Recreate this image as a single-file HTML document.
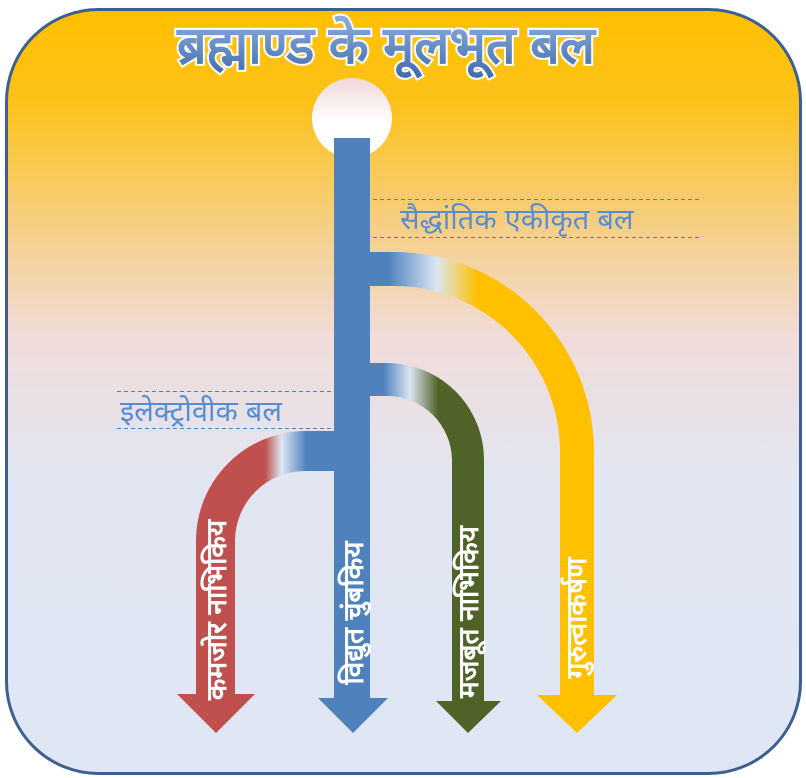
<!DOCTYPE html>
<html><head><meta charset="utf-8"><style>html,body{margin:0;padding:0;background:#fff}svg{display:block}text{font-family:"Liberation Sans","Noto Sans CJK SC",sans-serif}</style></head><body>
<svg width="806" height="778" viewBox="0 0 806 778" xmlns="http://www.w3.org/2000/svg">
<defs>
<linearGradient id="bg" x1="0" y1="0" x2="0" y2="1">
<stop offset="0" stop-color="#ffc000"/><stop offset="0.12" stop-color="#fdc21a"/><stop offset="0.3" stop-color="#f5d090"/><stop offset="0.43" stop-color="#f0dcda"/><stop offset="0.62" stop-color="#e2e6f2"/><stop offset="1" stop-color="#dfe7f4"/></linearGradient>
<linearGradient id="circ" x1="0" y1="0" x2="0" y2="1"><stop offset="0" stop-color="#efd8d8"/><stop offset="0.55" stop-color="#fff"/><stop offset="1" stop-color="#fff"/></linearGradient>
<linearGradient id="gr" gradientUnits="userSpaceOnUse" x1="334" y1="0" x2="196" y2="0"><stop offset="0" stop-color="#4f81bd"/><stop offset="0.2" stop-color="#4f81bd"/><stop offset="0.38" stop-color="#dce6f2"/><stop offset="0.5" stop-color="#c0504d"/><stop offset="1" stop-color="#c0504d"/></linearGradient>
<linearGradient id="gg" gradientUnits="userSpaceOnUse" x1="370" y1="0" x2="484" y2="0"><stop offset="0" stop-color="#4f81bd"/><stop offset="0.12" stop-color="#4f81bd"/><stop offset="0.35" stop-color="#dce6f2"/><stop offset="0.6" stop-color="#4f6228"/><stop offset="1" stop-color="#4f6228"/></linearGradient>
<linearGradient id="gy" gradientUnits="userSpaceOnUse" x1="370" y1="0" x2="594" y2="0"><stop offset="0" stop-color="#4f81bd"/><stop offset="0.08" stop-color="#4f81bd"/><stop offset="0.3" stop-color="#dce6f2"/><stop offset="0.48" stop-color="#ffc000"/><stop offset="1" stop-color="#ffc000"/></linearGradient>
<linearGradient id="tg" x1="0" y1="0" x2="0" y2="1"><stop offset="0" stop-color="#8fb0e0"/><stop offset="1" stop-color="#3f6aa8"/></linearGradient>
</defs>
<rect x="6.5" y="9.5" width="794" height="764" rx="92" fill="url(#bg)" stroke="#3c5f91" stroke-width="3"/>
<text x="386" y="63" text-anchor="middle" font-size="52" font-weight="bold" fill="url(#tg)" stroke="#fff" stroke-width="4" paint-order="stroke">ब्रह्माण्ड के मूलभूत बल</text>
<circle cx="352" cy="118" r="40" fill="url(#circ)"/>
<path d="M370 252 L394 252 A200 200 0 0 1 594 452 L594 695 L617 695 L577 733 L537 695 L560 695 L560 452 A166 166 0 0 0 394 286 L370 286 Z" fill="url(#gy)"/>
<path d="M370 363 L387 363 A97 97 0 0 1 484 460 L484 701 L501 701 L468 733 L436 701 L452 701 L452 460 A65 65 0 0 0 387 396 L370 396 Z" fill="url(#gg)"/>
<path d="M334 431 L306 431 A110 110 0 0 0 196 541 L196 694 L177 694 L216 733 L255 694 L235 694 L235 541 A70 70 0 0 1 305 471 L334 471 Z" fill="url(#gr)"/>
<path d="M334 138 L370 138 L370 698 L388 698 L353 733 L318 698 L334 698 Z" fill="#4f81bd"/>
<g stroke="#4f81bd" stroke-width="1" stroke-dasharray="4,3" fill="none">
<line x1="373" y1="199.5" x2="700" y2="199.5"/><line x1="373" y1="237.5" x2="700" y2="237.5"/>
<line x1="117" y1="391.5" x2="333" y2="391.5"/><line x1="117" y1="428.5" x2="333" y2="428.5"/></g>
<text x="400" y="229" font-size="29" fill="#558ed5">सैद्धांतिक एकीकृत बल</text>
<text x="120" y="421" font-size="29" fill="#558ed5">इलेक्ट्रोवीक बल</text>
<g font-size="28" font-weight="bold" fill="#fff" text-anchor="middle">
<text transform="translate(226,610) rotate(-90)">कमजोर नाभिकिय</text>
<text transform="translate(363,613) rotate(-90)">विद्युत चुंबकिय</text>
<text transform="translate(478,612) rotate(-90)">मजबूत नाभिकिय</text>
<text transform="translate(586,618) rotate(-90)">गुरुत्वाकर्षण</text>
</g>
</svg>
</body></html>
